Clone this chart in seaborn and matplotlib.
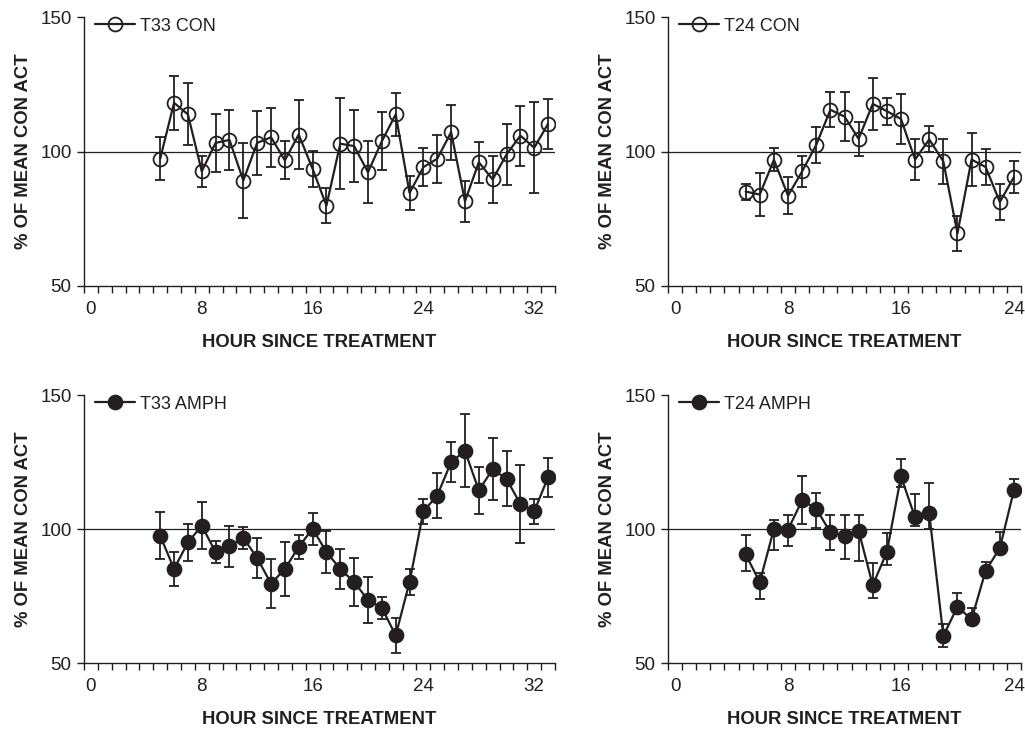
import numpy as np
import pandas as pd
import matplotlib
matplotlib.use("Agg")
import matplotlib.pyplot as plt
import seaborn as sns

# ---------------- data ----------------
hours_t33 = list(range(5, 34))
hours_t24 = list(range(5, 25))

t33_con = [97.3, 118.1, 113.8, 92.6, 103.2, 104.3, 89.2, 103.2, 105.3, 96.7,
           106.3, 93.6, 79.9, 102.9, 102.0, 92.3, 103.8, 113.8, 84.6, 94.2,
           97.3, 107.2, 81.5, 96.0, 89.6, 98.9, 105.9, 101.4, 110.3]
t33_con_err = [8.0, 10.0, 11.5, 5.8, 10.8, 11.3, 14.0, 12.0, 10.9, 7.1,
               12.8, 6.7, 6.5, 17.0, 13.3, 11.5, 10.7, 8.0, 6.2, 7.1,
               9.0, 10.2, 7.7, 7.6, 8.7, 11.3, 11.2, 16.9, 9.2]

t24_con = [85.1, 84.0, 96.9, 83.6, 92.6, 102.5, 115.5, 113.0, 104.7, 117.7,
           115.0, 112.1, 97.0, 104.5, 96.3, 69.6, 97.0, 94.2, 81.2, 90.5]
t24_con_err = [3.0, 8.0, 4.3, 7.0, 5.7, 6.6, 6.5, 9.0, 6.4, 9.7,
               5.0, 9.4, 7.6, 4.8, 8.5, 6.5, 10.0, 6.8, 6.8, 6.0]

t33_amph = [97.5, 85.1, 95.0, 101.2, 91.4, 93.6, 96.7, 89.2, 79.6, 85.1,
            93.3, 100.1, 91.4, 85.1, 80.2, 73.5, 70.6, 60.3, 80.2, 106.6,
            112.5, 124.9, 129.2, 114.4, 122.3, 118.7, 109.3, 106.6, 119.3]
t33_amph_err = [8.8, 6.3, 7.0, 8.8, 4.2, 7.6, 4.2, 7.6, 9.1, 10.0,
                4.4, 5.9, 8.0, 7.6, 9.0, 8.7, 4.0, 6.4, 4.8, 4.7,
                8.5, 7.4, 13.6, 8.9, 11.6, 10.3, 14.4, 4.7, 7.2]

t24_amph = [90.5, 80.2, 100.0, 99.8, 110.7, 107.6, 98.7, 97.5, 99.4, 79.0,
            91.4, 119.6, 104.3, 105.9, 60.1, 71.0, 66.3, 84.5, 92.8, 114.5]
t24_amph_err_lo = [6.2, 6.5, 7.7, 6.2, 8.8, 7.2, 6.7, 8.7, 11.4, 4.7,
                   4.9, 4.1, 3.3, 5.9, 4.3, 2.0, 2.0, 2.0, 2.0, 2.0]
t24_amph_err_hi = [7.1, 3.2, 3.2, 5.5, 8.9, 6.0, 6.6, 7.8, 5.9, 8.4,
                   7.1, 6.5, 8.8, 11.4, 4.3, 5.0, 4.3, 3.1, 5.9, 4.0]

panels = [
    dict(name="T33 CON", hours=hours_t33, y=t33_con,
         lo=t33_con_err, hi=t33_con_err, filled=False, ncat=34),
    dict(name="T24 CON", hours=hours_t24, y=t24_con,
         lo=t24_con_err, hi=t24_con_err, filled=False, ncat=25),
    dict(name="T33 AMPH", hours=hours_t33, y=t33_amph,
         lo=t33_amph_err, hi=t33_amph_err, filled=True, ncat=34),
    dict(name="T24 AMPH", hours=hours_t24, y=t24_amph,
         lo=t24_amph_err_lo, hi=t24_amph_err_hi, filled=True, ncat=25),
]

x_labels = [0, 8, 16, 24, 32]
y_ticks = [50, 100, 150]

# ---------------- style ----------------
sns.set_theme(style="ticks")
plt.rcParams["font.family"] = ["Liberation Sans", "DejaVu Sans"]
INK = "#231F20"

fig = plt.figure(figsize=(10.25, 7.34), dpi=100)
W, H = 1025.0, 734.0
rects = [
    (84, 17, 555, 286),
    (668, 17, 1021, 286),
    (84, 395, 555, 663),
    (668, 395, 1021, 663),
]

for p, (l, t, r, b) in zip(panels, rects):
    ax = fig.add_axes([l / W, 1 - b / H, (r - l) / W, (b - t) / H])
    df = pd.DataFrame({"hour": p["hours"], "value": p["y"]})
    face = INK if p["filled"] else "none"
    ax.axhline(100, color=INK, lw=0.9, zorder=1)
    ax.errorbar(df["hour"], df["value"], yerr=[p["lo"], p["hi"]], fmt="none",
                ecolor=INK, elinewidth=1.3, capsize=3.8, capthick=1.3, zorder=2)
    sns.lineplot(data=df, x="hour", y="value", ax=ax, color=INK, lw=1.6,
                 marker="o", markersize=10, markerfacecolor=face,
                 markeredgecolor=INK, markeredgewidth=1.3, label=p["name"],
                 zorder=3)

    ncat = p["ncat"]
    ax.set_xlim(-0.5, ncat - 0.5)
    ax.set_ylim(50, 150)
    ax.set_xticks([v for v in x_labels if v < ncat])
    ax.set_xticklabels([str(v) for v in x_labels if v < ncat])
    ax.set_xticks(np.arange(-0.5, ncat, 1.0), minor=True)
    ax.tick_params(axis="x", which="major", length=0, pad=11,
                   labelsize=13.5, colors=INK)
    ax.tick_params(axis="x", which="minor", length=5, width=1.0,
                   direction="out", color=INK)
    ax.set_yticks(y_ticks)
    ax.tick_params(axis="y", which="major", length=5, width=1.0, pad=4,
                   labelsize=13.5, colors=INK)

    for side in ("top", "right"):
        ax.spines[side].set_visible(False)
    for side in ("left", "bottom"):
        ax.spines[side].set_color(INK)
        ax.spines[side].set_linewidth(1.0)

    ax.set_xlabel("HOUR SINCE TREATMENT", fontsize=13.3, fontweight="bold",
                  color=INK, labelpad=11)
    ax.set_ylabel("% OF MEAN CON ACT", fontsize=13.3, fontweight="bold",
                  color=INK, labelpad=6)

    xoff = 11.0 / (r - l)
    leg = ax.legend(loc="upper left", bbox_to_anchor=(xoff, 0.997),
                    frameon=False, borderaxespad=0, borderpad=0,
                    handlelength=2.2, handletextpad=0.3, fontsize=13)
    for txt in leg.get_texts():
        txt.set_color(INK)
    ax.grid(False)

fig.savefig("out.png", dpi=100)
